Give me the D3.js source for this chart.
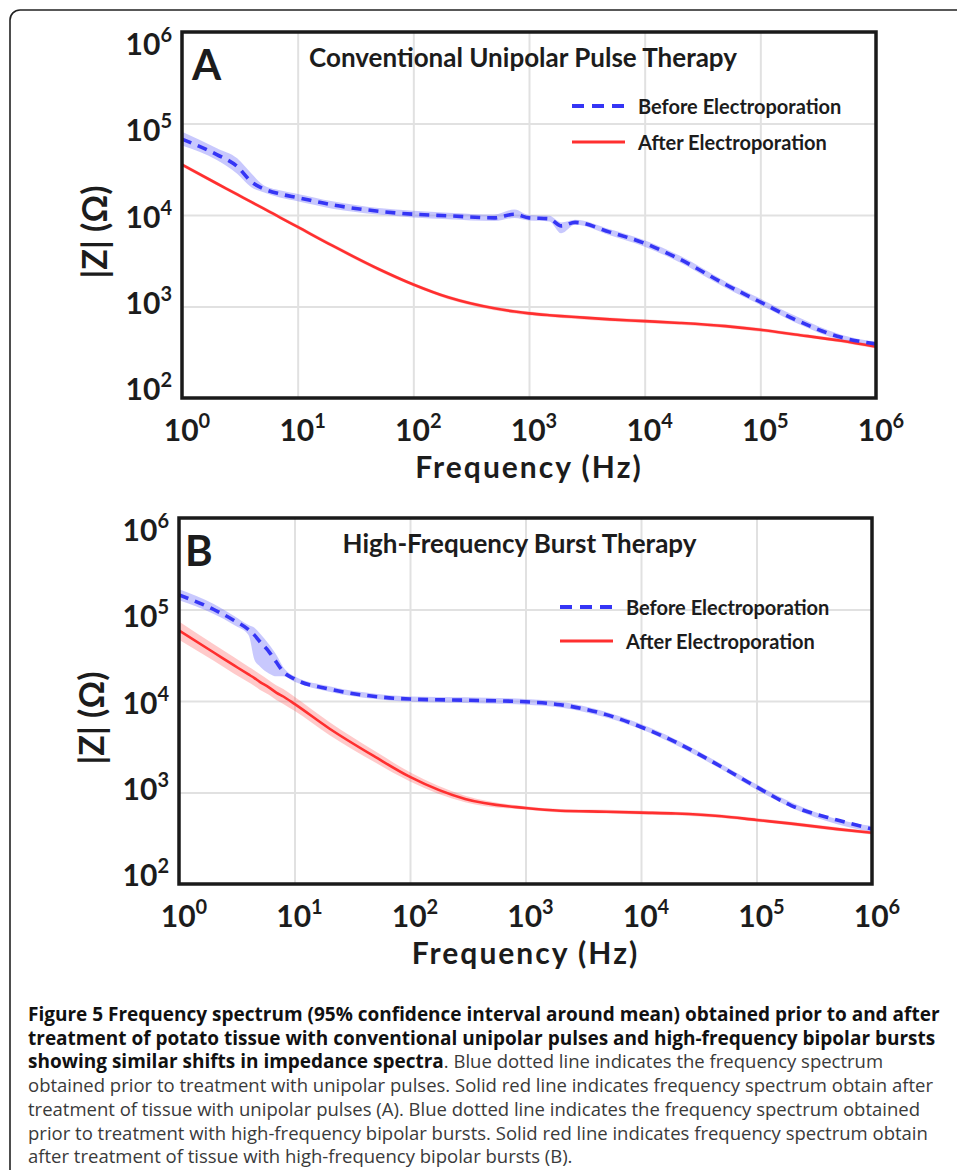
<!DOCTYPE html>
<html lang="en">
<head>
<meta charset="UTF-8">
<title>Figure 5 - impedance spectra</title>
<style>
  body { margin: 0; background: #fff; }
  svg text { font-family: Lato, "Open Sans", sans-serif; fill: #1c1c1c; }
  .grid line { stroke: #e1e1e1; stroke-width: 2; }
  .grid .domain { display: none; }
  .frame { fill: none; stroke: #1a1a1a; stroke-width: 3.5; }
  .tick-label { font-size: 30px; font-weight: 700; }
  .axis-title { font-size: 30px; font-weight: 700; letter-spacing: 2px; }
  .y-title { font-size: 34px; font-weight: 700; }
  .panel-letter { font-size: 42px; font-weight: 700; }
  .panel-title { font-size: 26px; font-weight: 700; }
  .legend-text { font-size: 20px; font-weight: 700; }
  svg .caption text { font-family: "Open Sans", sans-serif; font-size: 18.5px; fill: #3a3a3a; }
  svg .caption .b { font-weight: 700; font-size: 19px; fill: #111; }
</style>
</head>
<body>
<script src="https://d3js.org/d3.v7.min.js"></script>
<script>
// --- data (|Z| in ohm, frequency in Hz) ---

// panel A: conventional unipolar pulses
const freqA = [1, 2, 3, 4, 5, 7, 10, 20, 50, 100, 200, 500, 750, 1000, 1500, 1900, 2500, 5000, 1e4, 2e4, 5e4, 1e5, 2e5, 5e5, 1e6];
const beforeA   = [67600, 45700, 33900, 22900, 19500, 17000, 15500, 12900, 11000, 10200, 9800, 9300, 10200, 9300, 9100, 7600, 8300, 6500, 4900, 3300, 1740, 1120, 720, 460, 390];
const beforeALo = [57500, 39800, 28200, 20000, 17800, 15500, 14100, 11700, 10100, 9400, 9000, 8600, 9300, 8700, 8500, 6300, 7800, 6000, 4500, 3050, 1600, 1040, 670, 430, 370];
const beforeAHi = [81000, 53700, 41700, 28200, 21400, 18600, 17000, 14100, 11900, 11100, 10600, 10100, 11500, 10000, 9800, 8300, 8900, 7000, 5300, 3600, 1880, 1220, 790, 490, 410];
const afterA    = [35500, 22100, 16800, 13800, 11900, 9440, 7410, 4620, 2570, 1740, 1260, 955, 881, 841, 803, 785, 767, 724, 692, 661, 610, 556, 495, 422, 363];
const afterALo  = [33900, 21100, 16000, 13200, 11400, 9020, 7080, 4410, 2450, 1660, 1200, 912, 841, 803, 767, 750, 732, 691, 661, 631, 583, 531, 473, 403, 347];
const afterAHi  = [37200, 23100, 17600, 14400, 12500, 9880, 7760, 4840, 2690, 1820, 1320, 1000, 922, 881, 841, 822, 803, 758, 725, 692, 639, 582, 518, 442, 380];

// panel B: high-frequency bipolar bursts
const freqB = [1, 2, 3, 4, 4.5, 5, 6, 7, 8, 10, 20, 50, 100, 300, 1000, 2000, 5000, 1e4, 2e4, 5e4, 1e5, 2e5, 5e5, 1e6];
const beforeB   = [144500, 100000, 75900, 60300, 52500, 44700, 34700, 26300, 20900, 17400, 13500, 11200, 10500, 10200, 9800, 9100, 7100, 5200, 3550, 1900, 1150, 720, 500, 400];
const beforeBLo = [125900, 89100, 67600, 52500, 28200, 24000, 20000, 18600, 18600, 16200, 12600, 10500, 9800, 9500, 9100, 8500, 6600, 4900, 3300, 1780, 1070, 680, 450, 370];
const beforeBHi = [166000, 114800, 85100, 67600, 63100, 55000, 41700, 31600, 23400, 18600, 14500, 12000, 11200, 11000, 10500, 9800, 7600, 5600, 3800, 2040, 1230, 780, 510, 430];
const afterB    = [58900, 33900, 24500, 19500, 17800, 16200, 14100, 12300, 11200, 9300, 5010, 2450, 1480, 850, 676, 631, 617, 603, 589, 550, 501, 457, 398, 363];
const afterBLo  = [46800, 27500, 19900, 16000, 14600, 13300, 11700, 10200, 9300, 7800, 4260, 2130, 1320, 784, 646, 603, 589, 576, 563, 525, 479, 437, 380, 347];
const afterBHi  = [74100, 41700, 30100, 23700, 21600, 19700, 16900, 14800, 13500, 11100, 5890, 2820, 1660, 921, 708, 661, 646, 631, 617, 576, 525, 479, 417, 380];

// axes
const xTickExp = [0, 1, 2, 3, 4, 5, 6];
const yTickExp = [2, 3, 4, 5, 6];
const seriesNames = ["Before Electroporation", "After Electroporation"];

const W = 957, H = 1170;
const BLUE = "#3535f5", BLUE_BAND = "rgba(110,110,250,0.38)";
const RED = "#ff2f2f", RED_BAND = "rgba(255,90,90,0.32)";

const svg = d3.select("body").append("svg")
    .attr("width", W)
    .attr("height", H);

// outer figure box (runs off the right and bottom edges)
svg.append("rect")
    .attr("x", 10).attr("y", 10)
    .attr("width", 980).attr("height", 1200)
    .attr("rx", 10)
    .attr("fill", "none")
    .attr("stroke", "#222")
    .attr("stroke-width", 1.6);

function drawPanel(p) {
    const x = d3.scaleLog().domain([1, 1e6]).range([p.left, p.right]);
    const y = d3.scaleLog().domain([1e2, 1e6]).range([p.bottom, p.top]);
    // tick labels in the original sit on a slightly compressed ladder
    const yLab = d3.scaleLog().domain([1e2, 1e6]).range([p.bottom - 9, p.top + 12]);
    const w = p.right - p.left, h = p.bottom - p.top;

    const g = svg.append("g");

    // grid
    g.append("g").attr("class", "grid")
        .attr("transform", `translate(0,${p.bottom})`)
        .call(d3.axisBottom(x).tickValues(xTickExp.slice(1, -1).map(e => 10 ** e)).tickSize(-h).tickFormat(""));
    g.append("g").attr("class", "grid")
        .attr("transform", `translate(${p.left},0)`)
        .call(d3.axisLeft(y).tickValues(yTickExp.slice(1, -1).map(e => 10 ** e)).tickSize(-w).tickFormat(""));

    const clipId = "clip" + p.letter;
    g.append("clipPath").attr("id", clipId)
        .append("rect").attr("x", p.left).attr("y", p.top).attr("width", w).attr("height", h);
    const plot = g.append("g").attr("clip-path", `url(#${clipId})`);

    const idx = d3.range(p.freq.length);
    const area = (lo, hi) => d3.area()
        .curve(d3.curveMonotoneX)
        .x(i => x(p.freq[i]))
        .y0(i => y(lo[i]))
        .y1(i => y(hi[i]))(idx);
    const line = vals => d3.line()
        .curve(d3.curveMonotoneX)
        .x(i => x(p.freq[i]))
        .y(i => y(vals[i]))(idx);

    plot.append("path").attr("d", area(p.afterLo, p.afterHi)).attr("fill", RED_BAND);
    plot.append("path").attr("d", area(p.beforeLo, p.beforeHi)).attr("fill", BLUE_BAND);
    plot.append("path").attr("d", line(p.after))
        .attr("fill", "none").attr("stroke", RED).attr("stroke-width", 2.6);
    plot.append("path").attr("d", line(p.before))
        .attr("fill", "none").attr("stroke", BLUE).attr("stroke-width", 3.6)
        .attr("stroke-dasharray", "10,7");

    g.append("rect").attr("class", "frame")
        .attr("x", p.left).attr("y", p.top).attr("width", w).attr("height", h);

    // x tick labels
    xTickExp.forEach(e => {
        const t = g.append("text").attr("class", "tick-label")
            .attr("x", x(10 ** e) + 5).attr("y", p.bottom + 43)
            .attr("text-anchor", "middle");
        t.append("tspan").text("10");
        t.append("tspan").attr("dy", -13).attr("font-size", 20).text(e);
    });
    // y tick labels
    yTickExp.forEach(e => {
        const t = g.append("text").attr("class", "tick-label")
            .attr("x", p.left - 10).attr("y", yLab(10 ** e) + 11)
            .attr("text-anchor", "end");
        t.append("tspan").text("10");
        t.append("tspan").attr("dy", -13).attr("font-size", 20).text(e);
    });

    // axis titles
    g.append("text").attr("class", "axis-title")
        .attr("x", (p.left + p.right) / 2).attr("y", p.bottom + 80)
        .attr("text-anchor", "middle").text("Frequency (Hz)");
    g.append("text").attr("class", "y-title")
        .attr("transform", `translate(${p.left - 89},${(p.top + p.bottom) / 2 + 17}) rotate(-90)`)
        .attr("text-anchor", "middle").attr("dominant-baseline", "central")
        .text("|Z| (\u03A9)");

    // letter and title
    g.append("text").attr("class", "panel-letter")
        .attr("x", p.left + p.letterDx).attr("y", p.top + 48).text(p.letter);
    g.append("text").attr("class", "panel-title")
        .attr("x", (p.left + p.right) / 2 - 6).attr("y", p.top + 35)
        .attr("text-anchor", "middle").text(p.title);

    // legend
    const lg = g.append("g").attr("transform", `translate(${p.legendX},${p.legendY})`);
    lg.append("line").attr("x1", 0).attr("x2", 53)
        .attr("stroke", BLUE).attr("stroke-width", 4).attr("stroke-dasharray", "12,8");
    lg.append("line").attr("x1", 0).attr("x2", 53).attr("y1", p.legendGap).attr("y2", p.legendGap)
        .attr("stroke", RED).attr("stroke-width", 3);
    seriesNames.forEach((s, i) => {
        lg.append("text").attr("class", "legend-text")
            .attr("x", 66).attr("y", i * p.legendGap)
            .attr("dominant-baseline", "central").text(s);
    });
}

drawPanel({
    letter: "A", letterDx: 10, title: "Conventional Unipolar Pulse Therapy",
    left: 182, right: 876, top: 32, bottom: 398,
    legendX: 572, legendY: 106, legendGap: 36,
    freq: freqA, before: beforeA, beforeLo: beforeALo, beforeHi: beforeAHi,
    after: afterA, afterLo: afterALo, afterHi: afterAHi
});
drawPanel({
    letter: "B", letterDx: 6, title: "High-Frequency Burst Therapy",
    left: 179, right: 872, top: 518, bottom: 884,
    legendX: 560, legendY: 607, legendGap: 34,
    freq: freqB, before: beforeB, beforeLo: beforeBLo, beforeHi: beforeBHi,
    after: afterB, afterLo: afterBLo, afterHi: afterBHi
});

// caption
const captionLines = [
    [["b", "Figure 5 Frequency spectrum (95% confidence interval around mean) obtained prior to and after"]],
    [["b", "treatment of potato tissue with conventional unipolar pulses and high-frequency bipolar bursts"]],
    [["b", "showing similar shifts in impedance spectra"], ["r", ". Blue dotted line indicates the frequency spectrum"]],
    [["r", "obtained prior to treatment with unipolar pulses. Solid red line indicates frequency spectrum obtain after"]],
    [["r", "treatment of tissue with unipolar pulses (A). Blue dotted line indicates the frequency spectrum obtained"]],
    [["r", "prior to treatment with high-frequency bipolar bursts. Solid red line indicates frequency spectrum obtain"]],
    [["r", "after treatment of tissue with high-frequency bipolar bursts (B)."]]
];
const cap = svg.append("g").attr("class", "caption");
captionLines.forEach((parts, i) => {
    const t = cap.append("text").attr("x", 28).attr("y", 1021 + i * 23.7);
    parts.forEach(([k, s]) => t.append("tspan").attr("class", k).text(s));
});
</script>
</body>
</html>
